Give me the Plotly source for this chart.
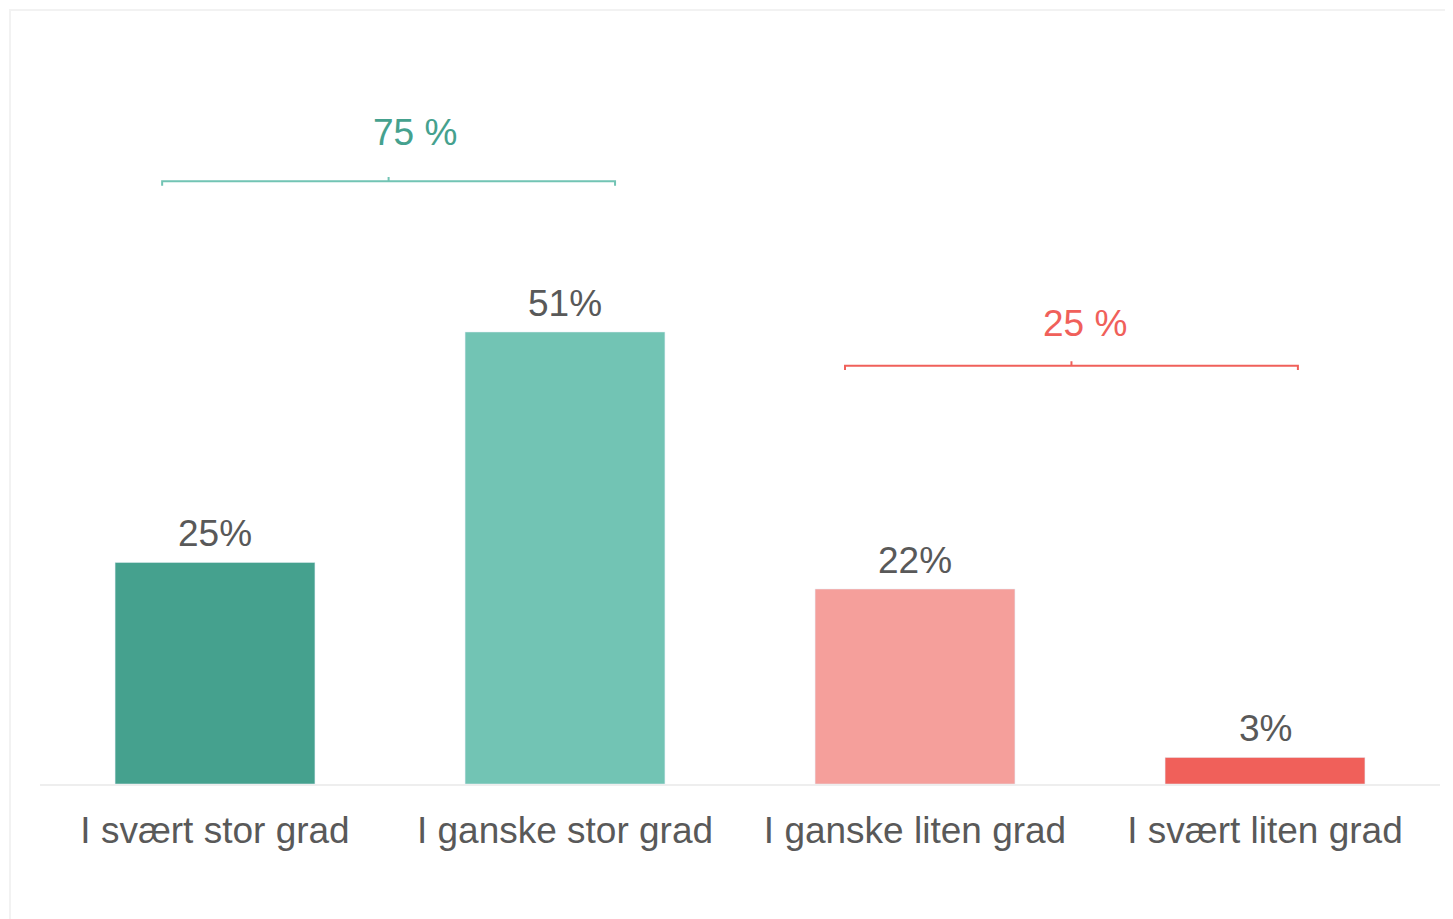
import plotly.graph_objects as go

# data
categories = ["I svært stor grad", "I ganske stor grad", "I ganske liten grad", "I svært liten grad"]
values = [25, 51, 22, 3]
group_labels = ["75 %", "25 %"]

bar_colors = ["#45A18E", "#72C4B4", "#F59F9B", "#F0605A"]
text_color = "#595959"
font_family = "Liberation Sans, Arial, sans-serif"

fig = go.Figure()

fig.add_trace(go.Bar(
    x=categories,
    y=values,
    marker_color=bar_colors,
    width=0.571,
    showlegend=False,
    hovertemplate="%{x}: %{y}%<extra></extra>",
))

# value labels above bars
for cat, v in zip(categories, values):
    fig.add_annotation(x=cat, y=v, text=f"{v}%", showarrow=False,
                       yanchor="bottom", yshift=6,
                       font=dict(size=37, color=text_color, family=font_family))

# brackets over the grouped categories (x in category index units)
brackets = [
    dict(x0=-0.151, x1=1.143, y=68.0, color="#72C4B4", label=group_labels[0],
         label_x=0.571, label_y=73.5, label_color="#45A18E"),
    dict(x0=1.80, x1=3.094, y=47.2, color="#F0605A", label=group_labels[1],
         label_x=2.486, label_y=52.0, label_color="#F0605A"),
]
for b in brackets:
    xm = (b["x0"] + b["x1"]) / 2
    y = b["y"]
    path = (f"M {b['x0']},{y - 0.5} L {b['x0']},{y} L {b['x1']},{y} L {b['x1']},{y - 0.5} "
            f"M {xm},{y} L {xm},{y + 0.5}")
    fig.add_shape(type="path", path=path, xref="x", yref="y",
                  line=dict(color=b["color"], width=2))
    fig.add_annotation(x=b["label_x"], y=b["label_y"], text=b["label"], showarrow=False,
                       xref="x", yref="y",
                       font=dict(size=37, color=b["label_color"], family=font_family))

# light frame around the chart
fig.add_shape(type="rect", xref="paper", yref="paper",
              x0=-0.0214, x1=1.03, y0=-0.25, y1=1.0917,
              line=dict(color="#F2F2F2", width=2), layer="below")

fig.update_layout(
    width=1453,
    height=919,
    margin=dict(l=32, r=21, t=67, b=143),
    paper_bgcolor="white",
    plot_bgcolor="white",
    font=dict(family=font_family, color=text_color),
)

fig.update_xaxes(
    showline=True,
    linecolor="#EEEEEE",
    linewidth=2,
    showgrid=False,
    ticks="",
    ticklabelstandoff=13,
    tickfont=dict(size=37, color=text_color, family=font_family),
    range=[-0.5, 3.5],
)
fig.update_yaxes(
    range=[0, 80],
    showgrid=False,
    zeroline=False,
    showticklabels=False,
)

fig.write_html("out.html")
